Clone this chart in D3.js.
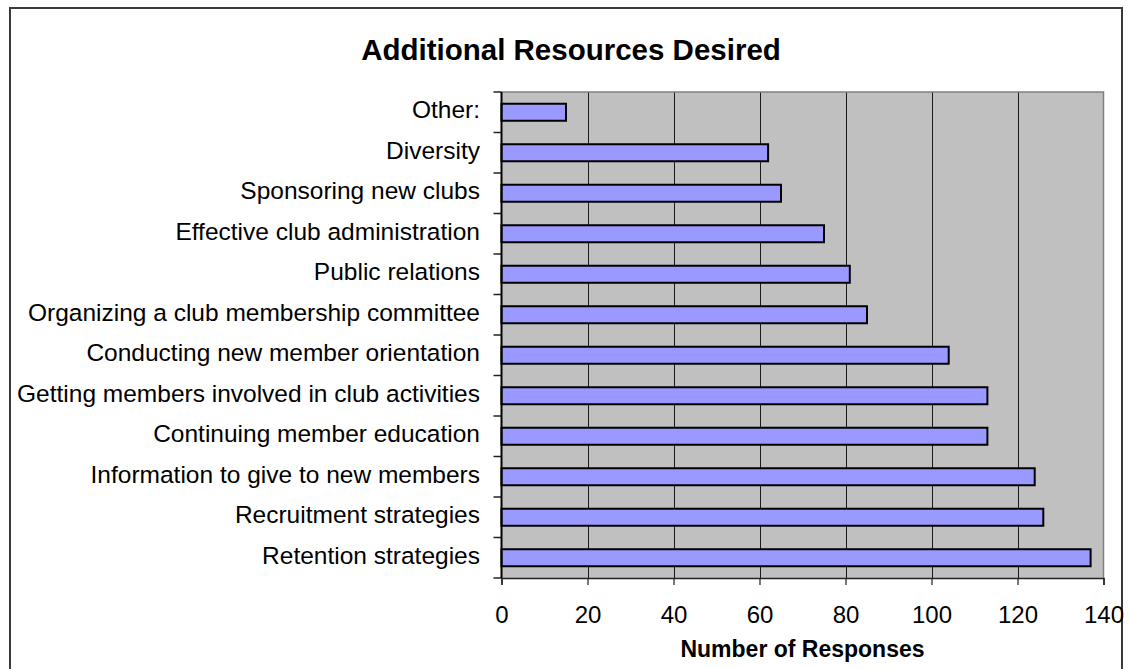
<!DOCTYPE html>
<html>
<head>
<meta charset="utf-8">
<script src="https://cdn.jsdelivr.net/npm/d3@7"></script>
<style>
  html, body { margin: 0; padding: 0; background: #fff; }
  svg { display: block; font-family: "Liberation Sans", Arial, sans-serif; }
</style>
</head>
<body>
<svg id="chart" width="1128" height="669"></svg>
<script>
const categories = [
  "Other:",
  "Diversity",
  "Sponsoring new clubs",
  "Effective club administration",
  "Public relations",
  "Organizing a club membership committee",
  "Conducting new member orientation",
  "Getting members involved in club activities",
  "Continuing member education",
  "Information to give to new members",
  "Recruitment strategies",
  "Retention strategies"
];
const values = [15, 62, 65, 75, 81, 85, 104, 113, 113, 124, 126, 137];
const xTicks = [0, 20, 40, 60, 80, 100, 120, 140];
const titleText = "Additional Resources Desired";
const xTitleText = "Number of Responses";

const svg = d3.select("#chart");
const plot = { left: 501.5, right: 1103.5, top: 92, bottom: 578 };

// outer frame
svg.append("rect")
  .attr("x", 10).attr("y", 8).attr("width", 1112).attr("height", 680)
  .attr("fill", "#fff").attr("stroke", "#3a3a3a").attr("stroke-width", 2);

const x = d3.scaleLinear().domain([0, 140]).range([plot.left, plot.right]);
const y = d3.scaleBand().domain(categories).range([plot.top, plot.bottom]).paddingInner(0.58).paddingOuter(0.29);
const band = d3.scaleBand().domain(categories).range([plot.top, plot.bottom]);

// plot background
svg.append("rect")
  .attr("x", plot.left).attr("y", plot.top)
  .attr("width", plot.right - plot.left).attr("height", plot.bottom - plot.top)
  .attr("fill", "#c0c0c0");

// gridlines
svg.append("g").selectAll("line").data(xTicks.filter(d => d > 0 && d < 140)).join("line")
  .attr("x1", d => Math.round(x(d)) + 0.5).attr("x2", d => Math.round(x(d)) + 0.5)
  .attr("y1", plot.top).attr("y2", plot.bottom)
  .attr("stroke", "#1a1a1a").attr("stroke-width", 1);

// plot border top/right
svg.append("path")
  .attr("d", `M${plot.left},${plot.top}H${plot.right}V${plot.bottom}`)
  .attr("fill", "none").attr("stroke", "#808080").attr("stroke-width", 1.5);

// bars
svg.append("g").selectAll("rect").data(values).join("rect")
  .attr("x", x(0))
  .attr("y", (d, i) => y(categories[i]))
  .attr("width", d => x(d) - x(0))
  .attr("height", y.bandwidth())
  .attr("fill", "#9999ff")
  .attr("stroke", "#000").attr("stroke-width", 2);

// x axis
const xAxis = d3.axisBottom(x).tickValues(xTicks).tickSize(7).tickPadding(21).tickFormat(d3.format("d"));
const gx = svg.append("g").attr("transform", `translate(0,${plot.bottom})`).call(xAxis);
gx.select(".domain").attr("stroke", "#222").attr("stroke-width", 1.5);
gx.selectAll(".tick line").attr("stroke", "#222").attr("stroke-width", 1.2);
gx.selectAll(".tick text").attr("font-size", 24).attr("fill", "#000")
  .attr("font-family", "'Liberation Sans', Arial, sans-serif");

// y axis: ticks at band boundaries
const yBounds = categories.map(c => band(c)).concat([plot.bottom]);
svg.append("g").selectAll("line").data(yBounds).join("line")
  .attr("x1", plot.left - 8).attr("x2", plot.left)
  .attr("y1", d => d).attr("y2", d => d)
  .attr("stroke", "#222").attr("stroke-width", 1.5);
svg.append("line")
  .attr("x1", plot.left).attr("x2", plot.left)
  .attr("y1", plot.top).attr("y2", plot.bottom)
  .attr("stroke", "#000").attr("stroke-width", 2);

svg.append("g").selectAll("text").data(categories).join("text")
  .attr("x", 480)
  .attr("y", c => band(c) + band.bandwidth() / 2 + 6)
  .attr("text-anchor", "end")
  .attr("font-size", 24.5)
  .attr("fill", "#000")
  .text(c => c);

// titles
svg.append("text")
  .attr("x", 571).attr("y", 60)
  .attr("text-anchor", "middle")
  .attr("font-size", 29.5).attr("font-weight", "bold")
  .text(titleText);

svg.append("text")
  .attr("x", (plot.left + plot.right) / 2).attr("y", 657)
  .attr("text-anchor", "middle")
  .attr("font-size", 23).attr("font-weight", "bold")
  .text(xTitleText);
</script>
</body>
</html>
